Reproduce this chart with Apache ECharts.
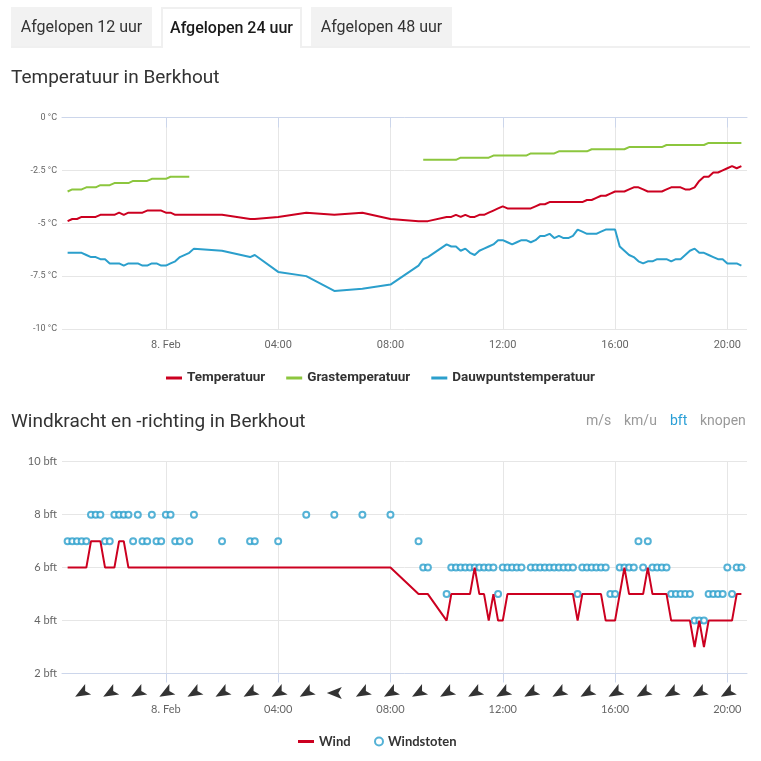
<!DOCTYPE html>
<html>
<head>
<meta charset="utf-8">
<script src="https://cdn.jsdelivr.net/npm/echarts@6/dist/echarts.min.js"></script>
<style>
  html, body { margin:0; padding:0; background:#fff; width:761px; height:761px; overflow:hidden; font-family: Roboto, sans-serif; }
  #chart { position:absolute; left:0; top:0; width:761px; height:761px; }
  .tabs { position:absolute; left:11px; top:7px; width:739px; height:39px; border-bottom:2px solid #f0f0f0; z-index:2; }
  .tab { position:absolute; top:0; width:141px; height:39px; line-height:40px; background:#f2f2f2; color:#333; font-size:16px; text-align:center; box-sizing:border-box; }
  .tab.active { background:#fff; border:2px solid #f0f0f0; border-bottom:none; height:41px; line-height:38px; color:#1a1a1a; font-weight:500; }
  .title { position:absolute; left:11px; font-size:19px; line-height:24px; color:#333; z-index:2; }
  .unit { position:absolute; top:412px; font-size:14px; line-height:16px; color:#999; z-index:2; }
  .unit.on { color:#2a9fd6; }
</style>
</head>
<body>
<div id="chart"></div>
<div class="tabs">
  <div class="tab" style="left:0px">Afgelopen 12 uur</div>
  <div class="tab active" style="left:150px">Afgelopen 24 uur</div>
  <div class="tab" style="left:300px">Afgelopen 48 uur</div>
</div>
<div class="title" style="top:65px">Temperatuur in Berkhout</div>
<div class="title" style="top:409px">Windkracht en -richting in Berkhout</div>
<div class="unit" style="left:586px">m/s</div>
<div class="unit" style="left:624px">km/u</div>
<div class="unit on" style="left:670px">bft</div>
<div class="unit" style="left:700px">knopen</div>
<script>
// ---- data (7 -> 8 Feb) ----
const times = [
  // evening 7 Feb (10-min)
  '20:30','20:40','20:50','21:00','21:10','21:20','21:30','21:40','21:50','22:00',
  '22:10','22:20','22:30','22:40','22:50','23:00','23:10','23:20','23:30','23:40',
  '23:50','00:00','00:10','00:20','00:30','00:50',
  // night (hourly)
  '01:00','02:00','03:00','03:10','04:00','05:00','06:00','07:00','08:00',
  // day 8 Feb (10-min)
  '09:00','09:10','09:20',
  '10:00','10:10','10:20','10:30','10:40','10:50','11:00','11:10','11:20','11:30','11:40','11:50',
  '12:00','12:10','12:20','12:30','12:40','12:50','13:00','13:10','13:20','13:30','13:40','13:50',
  '14:00','14:10','14:20','14:30','14:40','14:50','15:00','15:10','15:20','15:30','15:40','15:50',
  '16:00','16:10','16:20','16:30','16:40','16:50','17:00','17:10','17:20','17:30','17:40','17:50',
  '18:00','18:10','18:20','18:30','18:40','18:50','19:00','19:10','19:20','19:30','19:40','19:50',
  '20:00','20:10','20:20','20:30'
];

const temperatuur = [
  -4.9,-4.8,-4.8,-4.7,-4.7,-4.7,-4.7,-4.6,-4.6,-4.6,
  -4.6,-4.5,-4.6,-4.5,-4.5,-4.5,-4.5,-4.4,-4.4,-4.4,
  -4.4,-4.5,-4.5,-4.6,-4.6,-4.6,
  -4.6,-4.6,-4.8,-4.8,-4.7,-4.5,-4.6,-4.5,-4.8,
  -4.9,-4.9,-4.9,
  -4.7,-4.7,-4.6,-4.7,-4.6,-4.7,-4.7,-4.6,-4.6,-4.5,-4.4,-4.3,
  -4.2,-4.3,-4.3,-4.3,-4.3,-4.3,-4.3,-4.2,-4.1,-4.1,-4.0,-4.0,
  -4.0,-4.0,-4.0,-4.0,-4.0,-4.0,-3.9,-3.9,-3.8,-3.7,-3.7,-3.6,
  -3.5,-3.5,-3.5,-3.4,-3.3,-3.3,-3.4,-3.5,-3.5,-3.5,-3.5,-3.4,
  -3.3,-3.3,-3.3,-3.4,-3.4,-3.3,-3.0,-2.8,-2.8,-2.6,-2.6,-2.5,
  -2.4,-2.3,-2.4,-2.3
];

const grastemperatuur = [
  -3.5,-3.4,-3.4,-3.4,-3.3,-3.3,-3.3,-3.2,-3.2,-3.2,
  -3.1,-3.1,-3.1,-3.1,-3.0,-3.0,-3.0,-3.0,-2.9,-2.9,
  -2.9,-2.9,-2.8,-2.8,-2.8,-2.8,
  null,null,null,null,null,null,null,null,null,
  null,-2.0,-2.0,
  -2.0,-2.0,-2.0,-1.9,-1.9,-1.9,-1.9,-1.9,-1.9,-1.9,-1.8,-1.8,
  -1.8,-1.8,-1.8,-1.8,-1.8,-1.8,-1.7,-1.7,-1.7,-1.7,-1.7,-1.7,
  -1.6,-1.6,-1.6,-1.6,-1.6,-1.6,-1.6,-1.5,-1.5,-1.5,-1.5,-1.5,
  -1.5,-1.5,-1.5,-1.4,-1.4,-1.4,-1.4,-1.4,-1.4,-1.4,-1.4,-1.3,
  -1.3,-1.3,-1.3,-1.3,-1.3,-1.3,-1.3,-1.3,-1.2,-1.2,-1.2,-1.2,
  -1.2,-1.2,-1.2,-1.2
];

const dauwpunt = [
  -6.4,-6.4,-6.4,-6.4,-6.5,-6.6,-6.6,-6.7,-6.7,-6.9,
  -6.9,-6.9,-7.0,-6.9,-6.9,-6.9,-7.0,-7.0,-6.9,-6.9,
  -7.0,-7.0,-6.9,-6.8,-6.6,-6.4,
  -6.2,-6.3,-6.6,-6.5,-7.3,-7.5,-8.2,-8.1,-7.9,
  -7.0,-6.7,-6.6,
  -6.0,-6.1,-6.1,-6.3,-6.2,-6.4,-6.5,-6.3,-6.2,-6.1,-6.0,-5.8,
  -5.8,-5.9,-6.0,-5.9,-5.8,-5.8,-5.9,-5.8,-5.6,-5.6,-5.5,-5.7,
  -5.6,-5.7,-5.7,-5.6,-5.3,-5.4,-5.5,-5.5,-5.5,-5.4,-5.3,-5.3,
  -5.3,-6.1,-6.3,-6.5,-6.6,-6.8,-6.9,-6.8,-6.8,-6.7,-6.7,-6.7,
  -6.8,-6.7,-6.7,-6.5,-6.3,-6.2,-6.4,-6.4,-6.5,-6.6,-6.7,-6.7,
  -6.9,-6.9,-6.9,-7.0
];

const wind = [
  6,6,6,6,6,7,7,7,6,6,
  6,7,7,6,6,6,6,6,6,6,
  6,6,6,6,6,6,
  6,6,6,6,6,6,6,6,6,
  5,5,5,
  4,5,5,5,5,5,6,5,5,4,5,4,
  4,5,5,5,5,5,5,5,5,5,5,5,
  5,5,5,5,4,5,5,5,5,5,4,4,
  4,5,6,5,5,5,5,6,5,5,5,5,
  4,4,4,4,4,3,4,3,4,4,4,4,
  4,4,5,5
];

const windstoten = [
  7,7,7,7,7,8,8,8,7,7,
  8,8,8,8,7,8,7,7,8,7,
  7,8,8,7,7,7,
  8,7,7,7,7,8,8,8,8,
  7,6,6,
  5,6,6,6,6,6,6,6,6,6,6,5,
  6,6,6,6,6,null,6,6,6,6,6,6,
  6,6,6,6,5,6,6,6,6,6,6,5,
  5,6,6,6,6,7,6,7,6,6,6,6,
  5,5,5,5,5,4,4,4,5,5,5,5,
  6,5,6,6
];

// wind direction (degrees the wind comes from), hourly
const dirHours = ['21:00','22:00','23:00','00:00','01:00','02:00','03:00','04:00','05:00','06:00','07:00','08:00',
                  '09:00','10:00','11:00','12:00','13:00','14:00','15:00','16:00','17:00','18:00','19:00','20:00'];
const dirValues = [60,60,60,60,60,60,60,60,60,90,60,60,60,60,60,60,60,60,60,60,60,60,60,60];

const xTickValues = [0, 4, 8, 12, 16, 20];
const xTickLabels = ['8. Feb', '04:00', '08:00', '12:00', '16:00', '20:00'];

// ---- helpers ----
function toHours(list) {
  let offset = -24, prev = -1;
  return list.map(t => {
    const p = t.split(':');
    const h = +p[0] + (+p[1]) / 60;
    if (h < prev) offset = 0;
    prev = h;
    return h + offset;
  });
}
const hours = toHours(times);
const dirH = toHours(dirHours);
function pairs(vals, from, to) {
  const out = [];
  for (let i = 0; i < vals.length; i++) {
    if (vals[i] === null) continue;
    if (from !== undefined && (hours[i] < from || hours[i] > to)) continue;
    out.push([hours[i], vals[i]]);
  }
  return out;
}
const xLabel = v => { const i = xTickValues.indexOf(v); return i >= 0 ? xTickLabels[i] : ''; };

const RED = '#cc0020', GREEN = '#8cc63e', BLUE = '#2b9fcc';
const gridCol = '#e6e6e6', axisCol = '#ccd6eb';
const XMIN = -3.7, XMAX = 20.7;

function xAxisCfg(gi, margin, tickLen, font) {
  return {
    type: 'value', gridIndex: gi, min: XMIN, max: XMAX,
    axisLine: { show: true, lineStyle: { color: axisCol, width: 1 } },
    axisTick: { show: true, length: tickLen, lineStyle: { color: axisCol }, customValues: xTickValues },
    axisLabel: { customValues: xTickValues, formatter: xLabel, margin: margin, color: '#666', fontSize: 11, fontFamily: font },
    splitLine: { show: true, lineStyle: { color: gridCol, width: 1 } }
  };
}

const chart = echarts.init(document.getElementById('chart'));
chart.setOption({
  animation: false,
  backgroundColor: 'transparent',
  grid: [
    { left: 62, width: 685, top: 117.5, height: 211.5 },
    { left: 62, width: 685, top: 461.7, height: 211.8 },
    { left: 62, width: 685, top: 685, height: 16 }
  ],
  xAxis: [
    xAxisCfg(0, 11, 10, 'Roboto'),
    xAxisCfg(1, 30, 9, 'Lato'),
    { type: 'value', gridIndex: 2, min: XMIN, max: XMAX, show: false }
  ],
  yAxis: [
    { type: 'value', gridIndex: 0, min: -10, max: 0, interval: 2.5,
      axisLine: { show: false }, axisTick: { show: false },
      axisLabel: { formatter: '{value} °C', color: '#666', fontSize: 9, margin: 5, fontFamily: 'Roboto' },
      splitLine: { lineStyle: { color: gridCol } } },
    { type: 'value', gridIndex: 1, min: 2, max: 10, interval: 2,
      axisLine: { show: false }, axisTick: { show: false },
      axisLabel: { formatter: '{value} bft', color: '#666', fontSize: 11, margin: 5, fontFamily: 'Lato' },
      splitLine: { lineStyle: { color: gridCol } } },
    { type: 'value', gridIndex: 2, min: 0, max: 1, show: false }
  ],
  legend: [
    { data: ['Temperatuur', 'Grastemperatuur', 'Dauwpuntstemperatuur'], left: 'center', top: 371,
      icon: 'rect', itemWidth: 16, itemHeight: 3, itemGap: 21, padding: 0,
      textStyle: { fontSize: 13.5, fontWeight: 'bold', color: '#333', fontFamily: 'Roboto' } },
    { data: ['Wind'], left: 298, top: 735, icon: 'rect', itemWidth: 16, itemHeight: 3, padding: 0,
      textStyle: { fontSize: 13, fontWeight: 'bold', color: '#333', fontFamily: 'Lato' } },
    { data: ['Windstoten'], left: 374, top: 735, icon: 'emptyCircle', itemWidth: 8, itemHeight: 8, padding: 0,
      textStyle: { fontSize: 13, fontWeight: 'bold', color: '#333', fontFamily: 'Lato' } }
  ],
  series: [
    { name: 'Temperatuur', type: 'line', xAxisIndex: 0, yAxisIndex: 0, data: pairs(temperatuur),
      symbol: 'none', showSymbol: false, lineStyle: { color: RED, width: 2 }, itemStyle: { color: RED } },
    { name: 'Grastemperatuur', type: 'line', xAxisIndex: 0, yAxisIndex: 0, data: pairs(grastemperatuur, -24, 1),
      symbol: 'none', showSymbol: false, lineStyle: { color: GREEN, width: 2 }, itemStyle: { color: GREEN } },
    { name: 'Grastemperatuur', type: 'line', xAxisIndex: 0, yAxisIndex: 0, data: pairs(grastemperatuur, 8.5, 24),
      symbol: 'none', showSymbol: false, lineStyle: { color: GREEN, width: 2 }, itemStyle: { color: GREEN } },
    { name: 'Dauwpuntstemperatuur', type: 'line', xAxisIndex: 0, yAxisIndex: 0, data: pairs(dauwpunt),
      symbol: 'none', showSymbol: false, lineStyle: { color: BLUE, width: 2 }, itemStyle: { color: BLUE } },
    { name: 'Wind', type: 'line', xAxisIndex: 1, yAxisIndex: 1, data: pairs(wind),
      symbol: 'none', showSymbol: false, lineStyle: { color: RED, width: 2 }, itemStyle: { color: RED } },
    { name: 'Windstoten', type: 'scatter', xAxisIndex: 1, yAxisIndex: 1, data: pairs(windstoten),
      symbol: 'emptyCircle', symbolSize: 6, itemStyle: { color: BLUE, borderWidth: 2.2 } },
    { name: 'Windrichting', type: 'scatter', xAxisIndex: 2, yAxisIndex: 2,
      data: dirH.map((h, i) => ({ value: [h, 0.5], symbolRotate: 90 - dirValues[i] })),
      symbol: 'path://M0,5 L13,0 L10,5 L13,10 Z', symbolSize: [15, 12],
      itemStyle: { color: '#000' }, silent: true }
  ]
});
</script>
</body>
</html>
